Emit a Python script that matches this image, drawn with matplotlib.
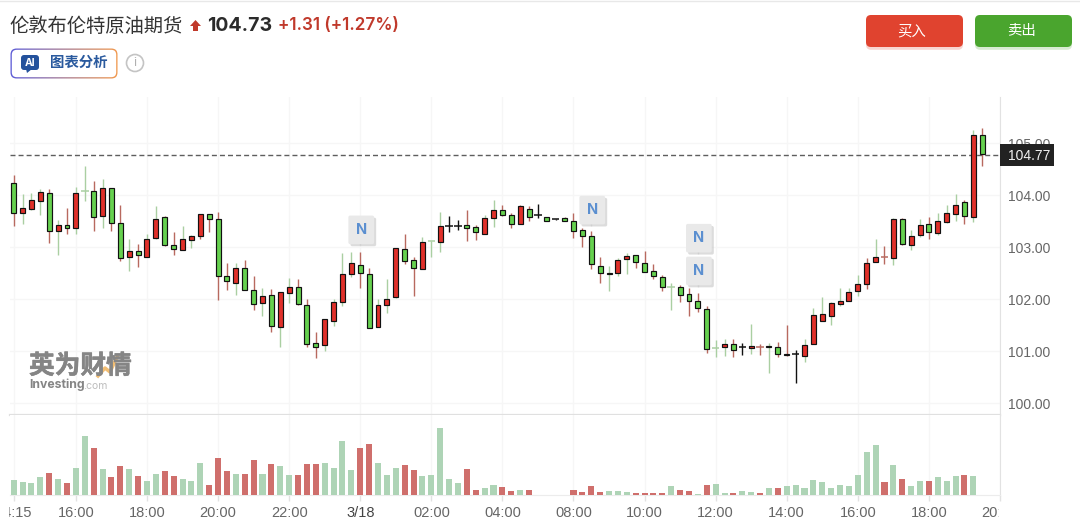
"""Brent crude 15-min candles with volume, quote header and buy/sell buttons."""
import numpy as np
import matplotlib
matplotlib.use("Agg")
import matplotlib.pyplot as plt
from matplotlib.patches import FancyBboxPatch, Circle, Polygon
from matplotlib.patheffects import withSimplePatchShadow, withStroke
from matplotlib.transforms import Bbox

plt.rcParams["font.family"] = ["Inter", "Noto Sans CJK SC", "DejaVu Sans"]
CJK = ["Noto Sans CJK SC", "DejaVu Sans"]
AXIS_FONT = ["Liberation Sans", "DejaVu Sans"]

W, H = 1080, 530
RED, GREEN = "#e0302a", "#66d14f"
WICK = {"r": "#b8695f", "g": "#aacfa2", "k": "#111111"}
VOL = {"r": "#cf6f6c", "g": "#aed4b6"}

opens = [104.24, 103.65, 103.74, 103.89, 104.03, 103.31, 103.43, 103.37, 104.08, 104.08,
         103.60, 104.13, 103.47, 102.81, 102.92, 102.81, 103.17, 103.57, 103.03, 102.95,
         103.14, 103.21, 103.63, 103.54, 102.45, 102.30, 102.59, 102.17, 101.93, 102.08,
         101.47, 102.12, 102.24, 101.89, 101.15, 101.12, 101.58, 101.95, 102.49, 102.66,
         102.49, 101.46, 101.88, 102.03, 102.96, 102.75, 102.58, 103.11, 103.09, 103.40,
         103.40, 103.42, 103.38, 103.26, 103.56, 103.71, 103.61, 103.45, 103.73, 103.61,
         103.57, 103.53, 103.56, 103.51, 103.33, 103.22, 102.63, 102.51, 102.51, 102.77,
         102.84, 102.70, 102.54, 102.42, 102.24, 102.24, 102.10, 101.96, 101.81, 101.06,
         101.07, 101.14, 101.08, 101.05, 101.08, 101.10, 101.08, 100.95, 100.94, 100.91,
         101.14, 101.58, 101.68, 101.91, 101.96, 102.15, 102.28, 102.72, 102.80, 102.79,
         103.54, 103.03, 103.24, 103.45, 103.27, 103.49, 103.63, 103.87, 103.58, 105.15]
highs = [104.38, 104.02, 104.03, 104.11, 104.11, 103.52, 103.76, 104.15, 104.55, 104.27,
         104.31, 104.14, 103.80, 103.15, 103.05, 103.26, 103.78, 103.59, 103.29, 103.40,
         103.23, 103.63, 103.64, 103.67, 102.70, 102.70, 102.76, 102.45, 102.22, 102.20,
         102.13, 102.40, 102.38, 102.01, 101.36, 101.62, 102.01, 102.88, 102.90, 102.91,
         102.59, 102.01, 102.39, 102.99, 103.25, 102.80, 103.20, 103.12, 103.67, 103.60,
         103.52, 103.71, 103.42, 103.62, 103.90, 103.81, 103.66, 103.80, 103.78, 103.83,
         103.58, 103.53, 103.57, 103.65, 103.36, 103.31, 102.80, 102.64, 102.78, 102.88,
         102.85, 102.92, 102.67, 102.46, 102.31, 102.27, 102.22, 102.11, 101.87, 101.21,
         101.24, 101.24, 101.16, 101.52, 101.13, 101.15, 101.18, 101.50, 101.02, 101.24,
         101.82, 102.03, 101.95, 102.22, 102.22, 102.46, 102.78, 103.15, 103.02, 103.56,
         103.55, 103.33, 103.53, 103.57, 103.65, 103.81, 104.02, 103.90, 105.25, 105.29]
lows = [103.41, 103.45, 103.72, 103.62, 103.08, 102.85, 103.25, 103.26, 103.88, 103.31,
        103.37, 103.31, 102.74, 102.53, 102.62, 102.81, 103.16, 103.02, 102.85, 102.94,
        102.98, 103.16, 103.29, 101.99, 102.17, 102.08, 102.17, 101.78, 101.67, 101.36,
        101.08, 101.92, 101.88, 101.08, 100.87, 101.00, 101.49, 101.87, 102.43, 102.22,
        101.44, 101.46, 101.74, 102.02, 102.67, 102.06, 102.58, 102.80, 102.90, 103.28,
        103.32, 103.11, 103.14, 103.25, 103.39, 103.60, 103.37, 103.44, 103.51, 103.55,
        103.51, 103.52, 103.51, 103.18, 103.01, 102.58, 102.30, 102.16, 102.44, 102.49,
        102.60, 102.52, 102.39, 102.16, 101.79, 101.95, 101.67, 101.76, 100.97, 100.88,
        100.90, 100.88, 100.93, 100.95, 100.92, 100.57, 100.88, 100.91, 100.38, 100.78,
        101.13, 101.58, 101.51, 101.87, 101.96, 102.06, 102.20, 102.72, 102.67, 102.65,
        103.04, 102.95, 103.19, 103.15, 103.24, 103.47, 103.50, 103.44, 103.49, 104.56]
closes = [103.65, 103.76, 103.90, 104.06, 103.30, 103.42, 103.37, 104.03, 104.07, 103.58,
          104.13, 103.47, 102.79, 102.92, 102.84, 103.15, 103.54, 103.04, 102.97, 103.15,
          103.22, 103.63, 103.54, 102.44, 102.35, 102.59, 102.17, 101.91, 102.05, 101.49,
          102.13, 102.24, 101.90, 101.14, 101.08, 101.62, 101.94, 102.49, 102.69, 102.51,
          101.44, 101.89, 102.01, 102.99, 102.74, 102.60, 103.10, 103.10, 103.40, 103.39,
          103.40, 103.37, 103.28, 103.55, 103.71, 103.61, 103.44, 103.78, 103.58, 103.60,
          103.51, 103.52, 103.51, 103.30, 103.21, 102.67, 102.51, 102.49, 102.75, 102.82,
          102.72, 102.52, 102.44, 102.23, 102.23, 102.07, 101.96, 101.82, 101.04, 101.05,
          101.14, 101.02, 101.07, 101.10, 101.07, 101.08, 100.94, 100.93, 100.93, 101.12,
          101.70, 101.72, 101.93, 101.96, 102.14, 102.29, 102.70, 102.80, 102.80, 103.54,
          103.05, 103.22, 103.42, 103.28, 103.50, 103.66, 103.81, 103.60, 105.15, 104.78]
wick_side = list("rgggrgrggr" "grrgrggrrg" "grrrrgrrgr" "ggrrrggggr" "rgggrrgggk"
                 "krrggrrrrk" "gkrrrrrggg" "rrrrgrrrrg" "grkgrgrrkg" "ggggggrgrg"
                 "rggrgggrgr")
volumes = [46, 38, 35, 53, 67, 49, 35, 82, 176, 140, 78, 53, 86, 78, 57, 42, 64, 71, 57, 49,
           42, 97, 31, 111, 71, 64, 64, 104, 64, 93, 86, 60, 60, 93, 93, 97, 82, 162, 75, 140,
           154, 97, 60, 82, 89, 75, 56, 60, 201, 49, 35, 78, 16, 20, 31, 24, 13, 16, 16, 0,
           0, 0, 0, 16, 9, 27, 9, 13, 13, 9, 5, 5, 5, 5, 27, 16, 13, 3, 31, 34,
           5, 5, 13, 9, 5, 20, 20, 27, 31, 20, 46, 38, 20, 31, 27, 60, 129, 151, 38, 89,
           49, 27, 42, 42, 53, 42, 56, 60, 56]
volume_side = list("ggggrgrggr" "grrgrggrrg" "ggrrrgrrgr" "ggrrrggggr" "rgggrrgggg"
                   "grrggrrgrg" "gggrrrrggg" "rrrrgrrgrg" "grggrgrggg" "ggggggggrg"
                   "rggrgggrg")

tick_idx = [0, 7, 15, 23, 31, 39, 47, 55, 63, 71, 79, 87, 95, 103, 111]
tick_labels = ["14:15", "16:00", "18:00", "20:00", "22:00", "3/18", "02:00", "04:00",
               "08:00", "10:00", "12:00", "14:00", "16:00", "18:00", "20:00"]
price_ticks = [100, 101, 102, 103, 104, 105]
last_price = 104.77
news_idx = [39, 65, 77, 77]
news_price = [103.33, 103.71, 103.17, 102.54]

fig = plt.figure(figsize=(W / 100, H / 100), dpi=100, facecolor="white")


def axes_px(left, top, right, bottom):
    return fig.add_axes([left / W, 1 - bottom / H, (right - left) / W, (bottom - top) / H])


ax = axes_px(10, 97, 1000, 415)
vol = axes_px(10, 415, 1000, 495)
x0, dx = 13.7, 8.9
xlim = ((10 - x0) / dx, (1000 - x0) / dx)
idx = np.arange(len(opens))
o, c = np.array(opens), np.array(closes)

# candles: wick first, then bodies with a black outline, dojis as a plain cross
ax.vlines(idx, lows, highs, colors=[WICK[s] for s in wick_side], lw=1.0, zorder=3)
doji = np.abs(c - o) < 0.015
ax.hlines(o[doji], idx[doji] - 0.42, idx[doji] + 0.42,
          colors=[WICK[s] for s, d in zip(wick_side, doji) if d], lw=1.1, zorder=3)
ax.bar(idx[~doji], (c - o)[~doji], bottom=o[~doji], width=0.56,
       color=[RED if v else GREEN for v in (c > o)[~doji]],
       edgecolor="#111111", linewidth=0.85, zorder=4)
ax.axhline(last_price, color="#5e5e5e", lw=1, dashes=(3.6, 2.2), zorder=2)

ax.set_xlim(xlim)
ax.set_ylim(99.77, 105.885)
ax.set_xticks(tick_idx)
ax.set_yticks(price_ticks, [f"{p:.2f}" for p in price_ticks], family=AXIS_FONT)
ax.yaxis.tick_right()
ax.tick_params(axis="x", length=0, labelbottom=False)
ax.tick_params(axis="y", length=0, labelsize=10, labelcolor="#666666", pad=5.5)
ax.grid(color="#f6f6f6", lw=1)
ax.set_axisbelow(True)
for side in ("top", "left"):
    ax.spines[side].set_visible(False)
ax.spines["right"].set_color("#e2e2e2")
ax.spines["bottom"].set_color("#e0e0e0")
ax.spines["bottom"].set_linewidth(1.6)

# news flags
for i, p in zip(news_idx, news_price):
    ax.vlines(i, p - 0.3, p, color="#e4e4e4", lw=1, zorder=5)
    t = ax.annotate("N", (i, p), xytext=(1, 0), textcoords="offset pixels", ha="center", va="center",
                    fontsize=10.5, fontweight="bold", color="#5b8fd0", zorder=6,
                    bbox=dict(boxstyle="round,pad=0.5,rounding_size=0.12", fc="#e9e9e9", ec="none"))
    t.get_bbox_patch().set_path_effects([
        withSimplePatchShadow(offset=(1.5, -1.5), shadow_rgbFace="#bbbbbb", alpha=0.5)])

# volume pane
vol.bar(idx[:len(volumes)], volumes, width=0.68,
        color=[VOL[s] for s in volume_side], zorder=3)
vol.set_xlim(xlim)
vol.set_ylim(0, 240)
vol.set_yticks([])
vol.set_xticks(tick_idx, tick_labels, family=AXIS_FONT)
vol.tick_params(axis="x", length=4, width=1, color="#e2e2e2", labelsize=10.5,
                labelcolor="#666666", pad=4)
vol.grid(axis="x", color="#f6f6f6", lw=1)
vol.set_axisbelow(True)
for side in ("top", "left"):
    vol.spines[side].set_visible(False)
vol.spines["right"].set_color("#e2e2e2")
vol.spines["bottom"].set_color("#ececec")

# first and last labels are cut at the pane edges, as in the platform
clip = Bbox([[9, 0], [998.5, 100]])
for lab in vol.get_xticklabels():
    lab.set_clip_on(True)
    lab.set_clip_box(clip)
    if lab.get_text() == "3/18":
        lab.set_color("#444444")

# everything else sits on an overlay in pixel coordinates
ov = fig.add_axes([0, 0, 1, 1], zorder=10)
ov.patch.set_alpha(0)
ov.set_axis_off()

ov.plot([0, W], [0.5, 0.5], color="#e8e8e8", lw=1)
ov.text(9.5, 26, "伦敦布伦特原油期货", family=CJK, fontsize=13.9, fontweight="medium",
        color="#333333", va="center")
ov.add_patch(Polygon([[195.5, 20], [201, 26], [198, 26], [198, 31], [193, 31], [193, 26], [190, 26]],
                     fc="#c0392b", ec="none"))
ov.text(207, 26, "104.73", fontsize=14, fontweight="bold", color="#2b2b2b", va="center")
ov.text(278, 26, "+1.31 (+1.27%)", fontsize=12.3, fontweight="semibold", color="#c0392b", va="center")

# AI button, gradient border
frame = FancyBboxPatch((10.5, 48.5), 107, 30, boxstyle="round,pad=0,rounding_size=6",
                       fc="none", ec="none")
ov.add_patch(frame)
grad = np.linspace(0, 1, 200)[None, :, None]
rgb = (1 - grad) * np.array([[[0.36, 0.36, 0.85]]]) + grad * np.array([[[0.95, 0.6, 0.3]]])
img = ov.imshow(rgb, extent=(10, 118, 79, 48), aspect="auto", zorder=1)
img.set_clip_path(frame)
ov.add_patch(FancyBboxPatch((11.8, 49.8), 104.4, 27.4, boxstyle="round,pad=0,rounding_size=5",
                            fc="white", ec="none", zorder=2))
ov.add_patch(FancyBboxPatch((21, 55), 18, 15, boxstyle="round,pad=0,rounding_size=3",
                            fc="#24529c", ec="none", zorder=3))
ov.add_patch(Polygon([[26, 69], [32, 69], [27, 73]], fc="#24529c", ec="none", zorder=3))
ov.text(30, 62.5, "AI", fontsize=7.5, fontweight="bold", color="white", ha="center", va="center", zorder=4)
ov.text(50, 63, "图表分析", family=CJK, fontsize=10.4, fontweight="bold", color="#2a5a9e", va="center", zorder=4)
ov.add_patch(Circle((135, 63), 8.5, fc="white", ec="#c4c4c4", lw=1.2))
ov.text(135, 63, "i", fontsize=9, color="#b0b0b0", ha="center", va="center")

# buy / sell buttons
for left, color, label in [(866, "#e0432f", "买入"), (975, "#4aa52e", "卖出")]:
    btn = FancyBboxPatch((left, 15), 97, 32, boxstyle="round,pad=0,rounding_size=5", fc=color, ec="none")
    ov.add_patch(btn)
    btn.set_path_effects([withSimplePatchShadow(offset=(0, -2), shadow_rgbFace=color, alpha=0.22)])
    ov.text(left + 46, 31, label, family=CJK, fontsize=10.4, fontweight="medium", color="white",
            ha="center", va="center")

# last price tag
ov.add_patch(FancyBboxPatch((1000, 144), 54, 22, boxstyle="square,pad=0", fc="#222222", ec="none"))
ov.text(1029.5, 155.5, f"{last_price:.2f}", family=AXIS_FONT, fontsize=10, color="#f2f2f2",
        ha="center", va="center")

# watermark
mark = ov.text(29, 366, "英为财情", family=CJK, fontsize=18.5, fontweight="black", color="#858585", va="center")
mark.set_path_effects([withStroke(linewidth=0.4, foreground="#858585")])
ov.plot([98, 105, 110, 117], [376, 368, 372, 357], color="#f0b35c", lw=2.5, alpha=0.85)
ov.text(29, 385, "Investing", fontsize=8.8, fontweight="bold", color="#858585", va="center")
ov.text(83, 386, ".com", fontsize=7.5, color="#bdbdbd", va="center")

ov.set_xlim(0, W)
ov.set_ylim(H, 0)

fig.savefig("out.png", dpi=100, facecolor="white")
